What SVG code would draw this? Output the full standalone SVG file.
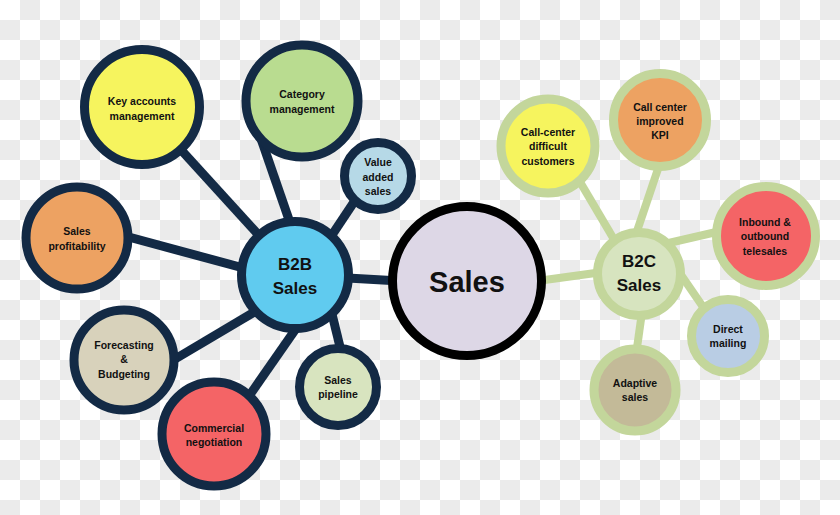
<svg xmlns="http://www.w3.org/2000/svg" width="840" height="515" viewBox="0 0 840 515">
<defs>
<pattern id="chk" width="40" height="40" patternUnits="userSpaceOnUse">
<rect width="40" height="40" fill="#ffffff"/>
<rect x="20" y="0" width="20" height="20" fill="#ebebeb"/>
<rect x="0" y="20" width="20" height="20" fill="#ebebeb"/>
</pattern>
<style>
.b2b circle{stroke:#132a45;stroke-width:9}
.b2c circle{stroke:#c3d69b;stroke-width:9}
text{font-family:"Liberation Sans",Arial,sans-serif;font-weight:bold;fill:#111111;text-anchor:middle;dominant-baseline:central}
.s{font-size:10.5px}
.m{font-size:17px}
.l{font-size:29px}
.dk{stroke:#132a45;stroke-width:9;fill:none}
.gr{stroke:#c3d69b;stroke-width:8;fill:none}
</style>
</defs>
<rect width="840" height="515" fill="url(#chk)"/>
<g id="connectors">
<line class="dk" x1="295" y1="275" x2="142" y2="107"/>
<line class="dk" x1="258" y1="130" x2="296" y2="240"/>
<line class="dk" x1="370" y1="178" x2="318" y2="256"/>
<line class="dk" x1="77" y1="223" x2="295" y2="282"/>
<line class="dk" x1="165" y1="365" x2="300" y2="285"/>
<line class="dk" x1="240" y1="409" x2="302" y2="320"/>
<line class="dk" x1="331" y1="310" x2="342" y2="355"/>
<line class="dk" x1="330" y1="277" x2="400" y2="281"/>
<line class="gr" x1="530" y1="282" x2="610" y2="271"/>
<line class="gr" x1="570" y1="165" x2="625" y2="258"/>
<line class="gr" x1="661" y1="160" x2="632" y2="246"/>
<line class="gr" x1="725" y1="230" x2="660" y2="245"/>
<line class="gr" x1="710" y1="317" x2="668" y2="256"/>
<line class="gr" x1="636" y1="355" x2="643" y2="305"/>
</g>
<g id="key-accounts" class="b2b"><circle cx="142" cy="107" r="57.5" fill="#f6f45e"/><text class="s" x="142" y="101">Key accounts</text><text class="s" x="142" y="115.5">management</text></g>
<g id="category" class="b2b"><circle cx="302" cy="101" r="56" fill="#b9dc90"/><text class="s" x="302" y="94">Category</text><text class="s" x="302" y="109">management</text></g>
<g id="value-added" class="b2b"><circle cx="378" cy="176" r="33.5" fill="#b6d9e7"/><text class="s" x="378" y="162">Value</text><text class="s" x="378" y="177">added</text><text class="s" x="378" y="191">sales</text></g>
<g id="profitability" class="b2b"><circle cx="77" cy="238" r="51" fill="#eda262"/><text class="s" x="77" y="231">Sales</text><text class="s" x="77" y="246">profitability</text></g>
<g id="forecasting" class="b2b"><circle cx="124" cy="360" r="50" fill="#d8d2bb"/><text class="s" x="124" y="345">Forecasting</text><text class="s" x="124" y="359">&amp;</text><text class="s" x="124" y="374">Budgeting</text></g>
<g id="commercial" class="b2b"><circle cx="214" cy="434" r="52" fill="#f46466"/><text class="s" x="214" y="428">Commercial</text><text class="s" x="214" y="442">negotiation</text></g>
<g id="pipeline" class="b2b"><circle cx="338" cy="387" r="38.5" fill="#d8e4bf"/><text class="s" x="338" y="380">Sales</text><text class="s" x="338" y="394">pipeline</text></g>
<g id="b2b" class="b2b"><circle cx="295" cy="275" r="53.5" fill="#60cbef"/><text class="m" x="295" y="264">B2B</text><text class="m" x="295" y="288">Sales</text></g>
<g id="sales"><circle cx="467" cy="281" r="74.5" fill="#ddd7e6" stroke="#000000" stroke-width="9"/><text class="l" x="467" y="282">Sales</text></g>
<g id="call-center-difficult" class="b2c"><circle cx="548" cy="146" r="47" fill="#f6f45e"/><text class="s" x="548" y="132">Call-center</text><text class="s" x="548" y="146">difficult</text><text class="s" x="548" y="161">customers</text></g>
<g id="call-center-kpi" class="b2c"><circle cx="660" cy="120" r="46.5" fill="#eda262"/><text class="s" x="660" y="107">Call center</text><text class="s" x="660" y="121">improved</text><text class="s" x="660" y="135">KPI</text></g>
<g id="telesales" class="b2c"><circle cx="766" cy="236" r="49.5" fill="#f46466"/><text class="s" x="765" y="222">Inbound &amp;</text><text class="s" x="765" y="236">outbound</text><text class="s" x="765" y="251">telesales</text></g>
<g id="direct-mailing" class="b2c"><circle cx="728" cy="336" r="36.5" fill="#b9cde4"/><text class="s" x="728" y="329">Direct</text><text class="s" x="728" y="343">mailing</text></g>
<g id="adaptive" class="b2c"><circle cx="635" cy="390" r="41" fill="#c3ba98"/><text class="s" x="635" y="383">Adaptive</text><text class="s" x="635" y="397">sales</text></g>
<g id="b2c" class="b2c"><circle cx="639" cy="274" r="41.5" fill="#d7e4bf"/><text class="m" x="639" y="261">B2C</text><text class="m" x="639" y="285">Sales</text></g>
</svg>
